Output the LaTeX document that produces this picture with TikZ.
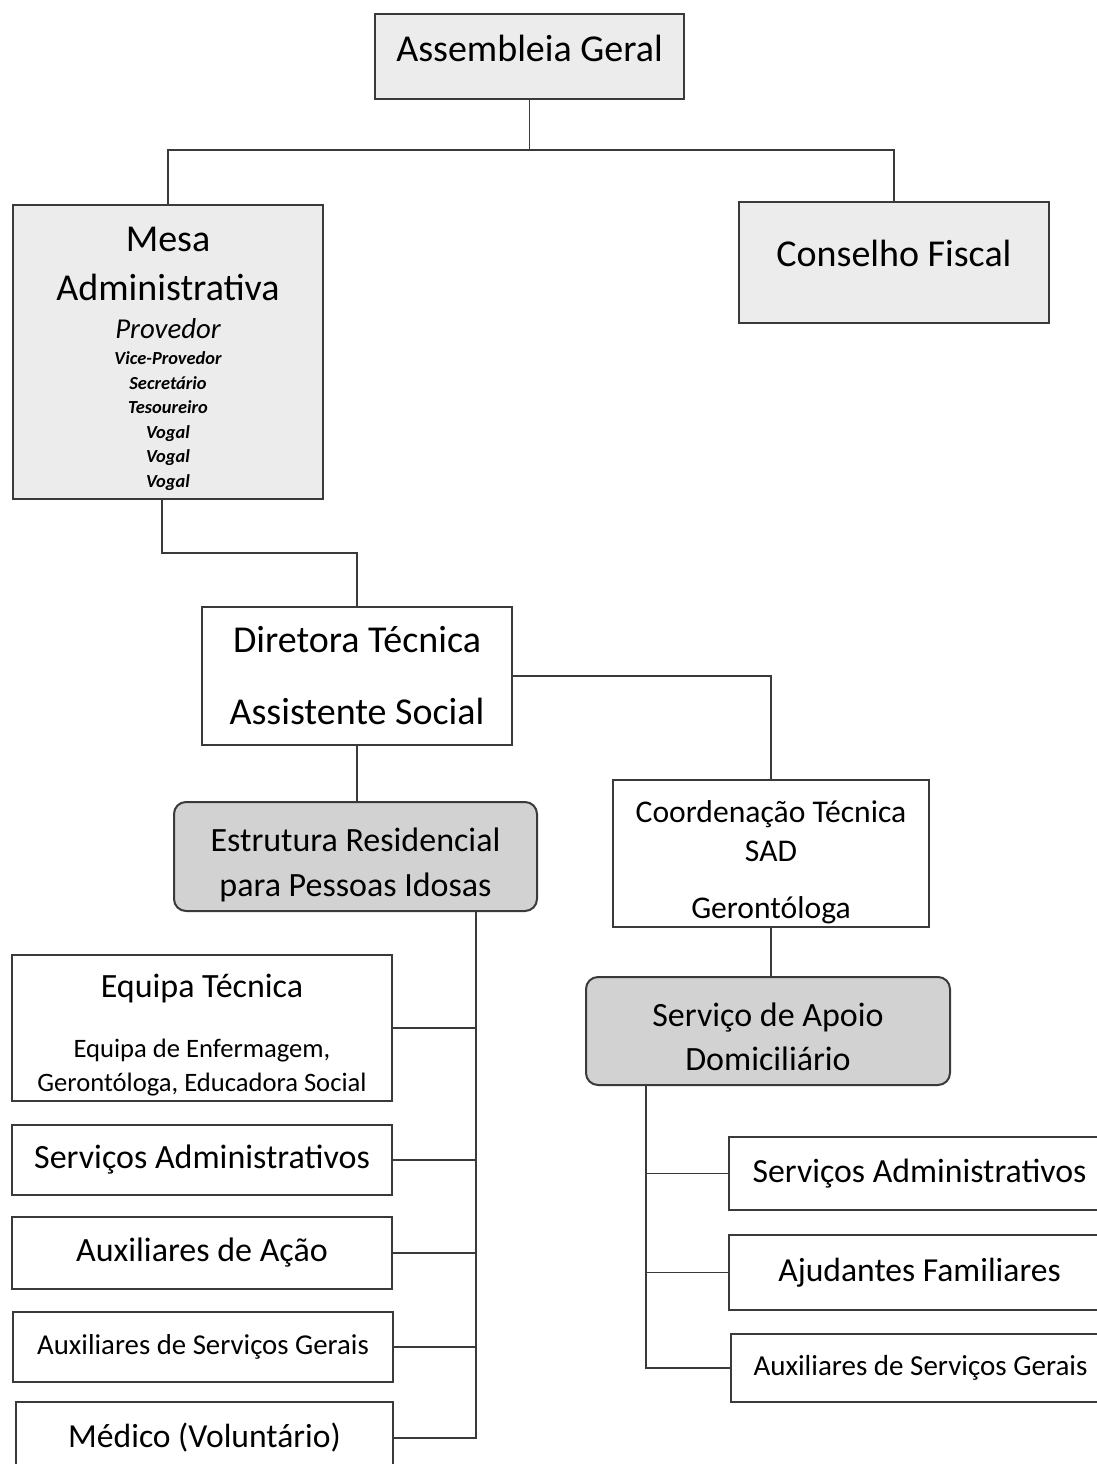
\documentclass[tikz,border=0pt]{standalone}
\usepackage{fontspec}
\setmainfont{Carlito}
\usetikzlibrary{positioning}
\definecolor{linegray}{HTML}{3A3A3A}
\definecolor{lightfill}{HTML}{ECECEC}
\definecolor{midfill}{HTML}{D2D2D2}
\newcommand\tightlines{\lineskiplimit=-100pt\relax}
\newcommand\memberfont{\fontsize{9.2}{10}\selectfont\bfseries\itshape}
\begin{document}
\begin{tikzpicture}[x=0.5pt,y=-0.5pt,
	box/.style={draw=linegray, line width=1pt, inner sep=0pt, align=center, text=black},
	greybox/.style={box, fill=lightfill},
	unitbox/.style={box, fill=midfill, rounded corners=6pt},
	link/.style={draw=linegray, line width=0.9pt}]
			\useasboundingbox (0,0) rectangle (1097,1464);
			% top of the chart
			\node[greybox, minimum width=154.5pt, minimum height=42.5pt, font=\fontsize{19}{23}\selectfont] (ag) at (529.5,56.5) {\rule[-8pt]{0pt}{8pt}Assembleia Geral};
			\node[greybox, minimum width=155pt, minimum height=147pt, font={\fontsize{19}{12.25}\selectfont\tightlines}] (mesa) at (168,352)
				{\rule{0pt}{19pt}Mesa\\[12.25pt] Administrativa\\[6.75pt]
				 {\fontsize{14.4}{14}\selectfont\itshape Provedor}\\[0.75pt]
				 {\memberfont Vice-Provedor}\\
				 {\memberfont Secretário}\\
				 {\memberfont Tesoureiro}\\
				 {\memberfont Vogal}\\
				 {\memberfont Vogal}\\
				 {\memberfont Vogal}};
			\node[greybox, minimum width=155pt, minimum height=60.5pt, font=\fontsize{19}{23}\selectfont] (cf) at (894,262.5) {\rule[-9pt]{0pt}{9pt}Conselho Fiscal};
			% direction
			\node[box, minimum width=155pt, minimum height=69pt, font=\fontsize{19}{36}\selectfont] (dir) at (357,676) {Diretora Técnica\\Assistente Social};
			\node[unitbox, minimum width=181.5pt, minimum height=54.5pt, font=\fontsize{17}{22.5}\selectfont] (erpi) at (355.5,856.5) {\rule{0pt}{20.3pt}Estrutura Residencial\\para Pessoas Idosas};
			\node[box, minimum width=158pt, minimum height=73.5pt, font=\fontsize{15.8}{19.5}\selectfont] (coord) at (771,853.5) {\rule{0pt}{19.5pt}Coordenação Técnica\\SAD\\[9pt]Gerontóloga};
			\node[unitbox, minimum width=182pt, minimum height=54pt, font=\fontsize{17}{22}\selectfont] (sad) at (768,1031) {\rule{0pt}{17.3pt}Serviço de Apoio\\Domiciliário};
			% staff of the residence
			\node[box, minimum width=190pt, minimum height=73pt, font=\fontsize{17}{17}\selectfont] (eqt) at (202,1028)
				{\rule{0pt}{18.9pt}Equipa Técnica\\[13pt]
				 {\fontsize{13.3}{13.3}\selectfont Equipa de Enfermagem,}\\
				 {\fontsize{13.3}{13.3}\selectfont Gerontóloga, Educadora Social}};
			\node[box, minimum width=190pt, minimum height=35pt, font=\fontsize{17}{20}\selectfont] (sadm) at (202,1160) {Serviços Administrativos};
			\node[box, minimum width=190pt, minimum height=36pt, font=\fontsize{17}{20}\selectfont] (aux) at (202,1253) {Auxiliares de Ação};
			\node[box, minimum width=190pt, minimum height=35pt, font=\fontsize{14.4}{18}\selectfont] (asg) at (203,1347) {\rule[-3pt]{0pt}{3pt}Auxiliares de Serviços Gerais};
			\node[box, minimum width=188.5pt, minimum height=36pt, font=\fontsize{16.8}{20}\selectfont] (med) at (204.5,1438) {Médico (Voluntário)};
			% staff of the home support service
			\node[box, minimum width=190.5pt, minimum height=36.5pt, font=\fontsize{16.9}{20}\selectfont] (radm) at (919.5,1173.5) {Serviços Administrativos};
			\node[box, minimum width=190.5pt, minimum height=37.5pt, font=\fontsize{16.8}{20}\selectfont] (rfam) at (919.5,1272.5) {Ajudantes Familiares};
			\node[box, minimum width=189.5pt, minimum height=34pt, font=\fontsize{14.5}{18}\selectfont] (rasg) at (920.5,1368) {Auxiliares de Serviços Gerais};
			
			\coordinate (agjoin) at (527,150);
			\coordinate (erpibus) at (476,911);
			\coordinate (sadbus) at (646,1085);
			\draw[link] (ag.south) -- (ag.south |- agjoin);
			\draw[link] (mesa.north) |- (agjoin) -| (cf.north);
			\draw[link] ([xshift=-3pt]mesa.south) -- ++(0,53) -| (dir.north);
			\draw[link] (dir.east) -| (coord.north);
			\draw[link] (dir.south) -- (dir.south |- erpi.north);
			\draw[link] (coord.south) -- (coord.south |- sad.north);
			\foreach \b in {eqt, sadm, aux, asg, med}  % stubs left of the residence line
			{	\draw[link] (\b.east) -| (erpibus);
			}
			\foreach \b in {radm, rfam, rasg}  % stubs right of the SAD line
			{	\draw[link] (\b.west) -| (sadbus);
			}
		\end{tikzpicture}
\end{document}
